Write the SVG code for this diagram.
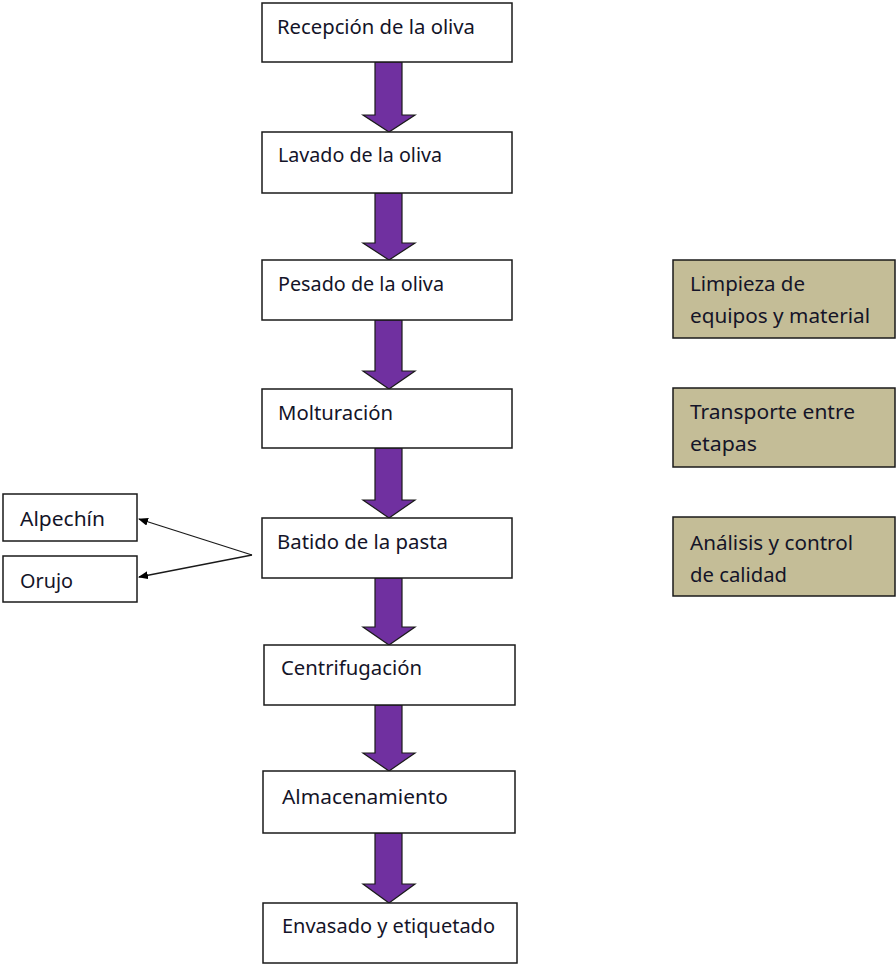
<svg xmlns="http://www.w3.org/2000/svg" width="896" height="964" viewBox="0 0 896 964">
<defs>
<style>
.box{fill:#ffffff;stroke:#1a1a1a;stroke-width:1.5}
.side{fill:#C4BD97;stroke:#1a1a1a;stroke-width:1.5}
.t{font-family:"Noto Sans","Open Sans",sans-serif;font-size:19px;fill:#141428}
.arr{fill:#7030A0;stroke:#1a1a1a;stroke-width:1.2;stroke-linejoin:miter}
.ln{stroke:#1a1a1a;stroke-width:1.3;fill:none}
</style>
<marker id="ah" markerWidth="10" markerHeight="8" refX="9" refY="4" orient="auto" markerUnits="userSpaceOnUse">
<path d="M0,0 L10,4 L0,8 z" fill="#000"/>
</marker>
</defs>
<rect width="896" height="964" fill="#ffffff"/>
<g id="connectors">
<path class="arr" d="M375,62 H402 V115 H415 L389,132 L363,115 H375 Z"/>
<path class="arr" d="M375,193 H402 V243 H415 L389,260 L363,243 H375 Z"/>
<path class="arr" d="M375,320 H402 V371 H415 L389,389 L363,371 H375 Z"/>
<path class="arr" d="M375,448 H402 V500 H415 L389,518 L363,500 H375 Z"/>
<path class="arr" d="M375,578 H402 V627 H415 L389,645 L363,627 H375 Z"/>
<path class="arr" d="M375,705 H402 V753 H415 L389,771 L363,753 H375 Z"/>
<path class="arr" d="M375,833 H402 V884 H415 L389,903 L363,884 H375 Z"/>
<line class="ln" x1="252" y1="555" x2="139" y2="519" marker-end="url(#ah)"/>
<line class="ln" x1="252" y1="555" x2="139" y2="577" marker-end="url(#ah)"/>
</g>
<g id="n1"><rect class="box" x="262" y="3" width="250" height="59"/><text class="t" x="277" y="34" textLength="198" lengthAdjust="spacingAndGlyphs">Recepción de la oliva</text></g>
<g id="n2"><rect class="box" x="262" y="132" width="250" height="61"/><text class="t" x="278" y="162" textLength="164" lengthAdjust="spacingAndGlyphs">Lavado de la oliva</text></g>
<g id="n3"><rect class="box" x="262" y="260" width="250" height="60"/><text class="t" x="278" y="291" textLength="166" lengthAdjust="spacingAndGlyphs">Pesado de la oliva</text></g>
<g id="n4"><rect class="box" x="262" y="389" width="250" height="59"/><text class="t" x="278" y="420" textLength="115" lengthAdjust="spacingAndGlyphs">Molturación</text></g>
<g id="n5"><rect class="box" x="262" y="518" width="250" height="60"/><text class="t" x="277" y="549" textLength="171" lengthAdjust="spacingAndGlyphs">Batido de la pasta</text></g>
<g id="n6"><rect class="box" x="264" y="645" width="251" height="60"/><text class="t" x="281" y="675" textLength="141" lengthAdjust="spacingAndGlyphs">Centrifugación</text></g>
<g id="n7"><rect class="box" x="263" y="771" width="252" height="62"/><text class="t" x="282" y="804" textLength="166" lengthAdjust="spacingAndGlyphs">Almacenamiento</text></g>
<g id="n8"><rect class="box" x="263" y="903" width="254" height="60"/><text class="t" x="282" y="933" textLength="213" lengthAdjust="spacingAndGlyphs">Envasado y etiquetado</text></g>
<g id="alpechin"><rect class="box" x="3" y="494" width="134" height="47"/><text class="t" x="20" y="526" textLength="85" lengthAdjust="spacingAndGlyphs">Alpechín</text></g>
<g id="orujo"><rect class="box" x="3" y="556" width="134" height="46"/><text class="t" x="20" y="588" textLength="53" lengthAdjust="spacingAndGlyphs">Orujo</text></g>
<g id="limpieza"><rect class="side" x="673" y="260" width="222" height="78"/><text class="t" x="690" y="291" textLength="115" lengthAdjust="spacingAndGlyphs">Limpieza de</text><text class="t" x="690" y="323" textLength="180" lengthAdjust="spacingAndGlyphs">equipos y material</text></g>
<g id="transporte"><rect class="side" x="673" y="388" width="222" height="79"/><text class="t" x="690" y="419" textLength="165" lengthAdjust="spacingAndGlyphs">Transporte entre</text><text class="t" x="690" y="451" textLength="67" lengthAdjust="spacingAndGlyphs">etapas</text></g>
<g id="analisis"><rect class="side" x="673" y="517" width="222" height="79"/><text class="t" x="690" y="550" textLength="163" lengthAdjust="spacingAndGlyphs">Análisis y control</text><text class="t" x="690" y="582" textLength="97" lengthAdjust="spacingAndGlyphs">de calidad</text></g>
</svg>
